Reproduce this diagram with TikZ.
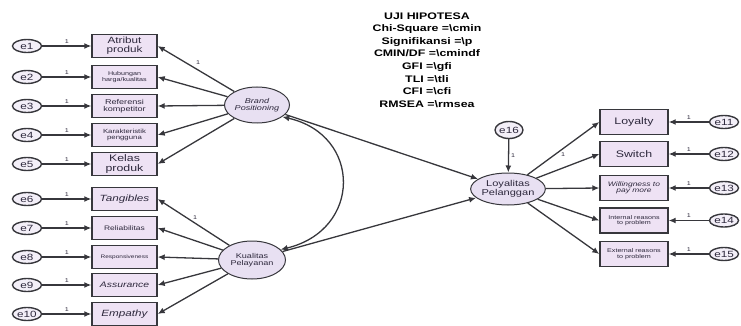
\documentclass[tikz,border=0pt]{standalone}
\usepackage{fontspec}
\setmainfont[FakeStretch=1.3]{Liberation Sans}
\usetikzlibrary{arrows.meta,positioning,shapes.geometric}
\definecolor{boxpink}{RGB}{238,226,244}
\definecolor{latlilac}{RGB}{232,224,242}
\definecolor{inkgrey}{RGB}{45,40,60}
\definecolor{linegrey}{RGB}{55,55,60}
\tikzset{
  base/.style={font=\fontsize{7}{7}\selectfont, align=center, inner sep=1pt, text=inkgrey},
  fs/.style={font=\fontsize{#1}{#1}\selectfont},
  box/.style={base, rectangle, draw=linegrey, fill=boxpink, line width=1.4pt, minimum height=23pt, minimum width=65pt},
  rbox/.style={box, minimum height=25pt, minimum width=68pt},
  lat/.style={base, ellipse, draw=linegrey, fill=latlilac, line width=1pt, inner sep=0pt},
  err/.style={base, ellipse, draw=linegrey, fill=latlilac!50, line width=1.4pt, minimum width=29pt, minimum height=13pt, inner sep=0pt, fs=9},
  arr/.style={-{Latex[length=7pt,width=6pt]}, line width=1.3pt, draw=linegrey},
  arr2/.style={arr, {Latex[length=7pt,width=6pt]}-{Latex[length=7pt,width=6pt]}},
  lbl/.style={font=\fontsize{5.5}{5.5}\selectfont, inner sep=1pt, text=inkgrey},
}

\begin{document}
\begin{tikzpicture}[x=1pt,y=-1pt]
  \useasboundingbox (0,0) rectangle (741,326);
  % fit summary
  \node[base,font=\fontsize{9.5}{12.6}\selectfont\bfseries,text=black] (stats) at (427,60)
    {UJI HIPOTESA\\Chi-Square =\textbackslash cmin\\Signifikansi =\textbackslash p\\CMIN/DF =\textbackslash cmindf\\GFI =\textbackslash gfi\\TLI =\textbackslash tli\\CFI =\textbackslash cfi\\RMSEA =\textbackslash rmsea};
  % latent variables
  \node[lat,minimum width=65pt,minimum height=36pt,fs=7] (brand) at (257,105) {\itshape Brand\\\itshape Positioning};
  \node[lat,minimum width=67pt,minimum height=38pt,fs=7] (kual) at (252,260) {Kualitas\\Pelayanan};
  \node[lat,minimum width=67pt,minimum height=32pt,fs=8.5] (loyal) at (508,189) {Loyalitas\\Pelanggan};
  \node[err,minimum width=28pt,minimum height=17pt] (e16) at (509,130) {e16};
  % left indicators
  \foreach \i/\y/\t/\s in {1/46/{Atribut\\produk}/9, 2/77/{Hubungan\\harga/kualitas}/5.5, 3/106/{Referensi\\kompetitor}/7,
      4/135/{Karakteristik\\pengguna}/6, 5/164/{Kelas\\produk}/9.5, 6/199/{\itshape Tangibles}/9,
      7/228/{Reliabilitas}/6.5, 8/257/{Responsiveness}/5, 9/285/{\itshape Assurance}/8, 10/314/{\itshape Empathy}/9}{
    \node[box,fs=\s] (x\i) at (124.5,\y) {\t};
    \node[err] (e\i) at (27,\y) {e\i};
    \draw[arr] (e\i) -- (x\i) node[lbl,midway,above=1pt] {1};
  }
  % right indicators
  \foreach \i/\y/\t/\s in {1/122/Loyalty/9.5, 2/154/Switch/9.5, 3/188/{\itshape Willingness to\\\itshape pay more}/6.5,
      4/220.5/{Internal reasons\\to problem}/5.5, 5/254/{External reasons\\to problem}/5.5}{
    \pgfmathtruncatemacro{\k}{\i+10}
    \node[rbox,fs=\s] (y\i) at (634,\y) {\t};
    \node[err] (e\k) at (724,\y) {e\k};
    \draw[arr] (e\k) -- (y\i) node[lbl,midway,above=1pt] {1};
    \draw[arr] (loyal) -- (y\i.west);
  }
  \foreach \i in {1,...,5}{\draw[arr] (brand) -- (x\i.east);}
  \foreach \i in {6,...,10}{\draw[arr] (kual) -- (x\i.east);}
  \node[lbl] at (198,63) {1};
  \node[lbl] at (195,218) {1};
  \node[lbl] at (563,155) {1};
  % structural paths
  \draw[arr] (brand) -- (loyal);
  \draw[arr] (kual) -- (loyal);
  \draw[arr] (e16) -- (loyal) node[lbl,midway,right=1pt] {1};
  \draw[arr2] (brand.-25) .. controls (362,135) and (362,230) .. (kual.20);
\end{tikzpicture}
\end{document}
